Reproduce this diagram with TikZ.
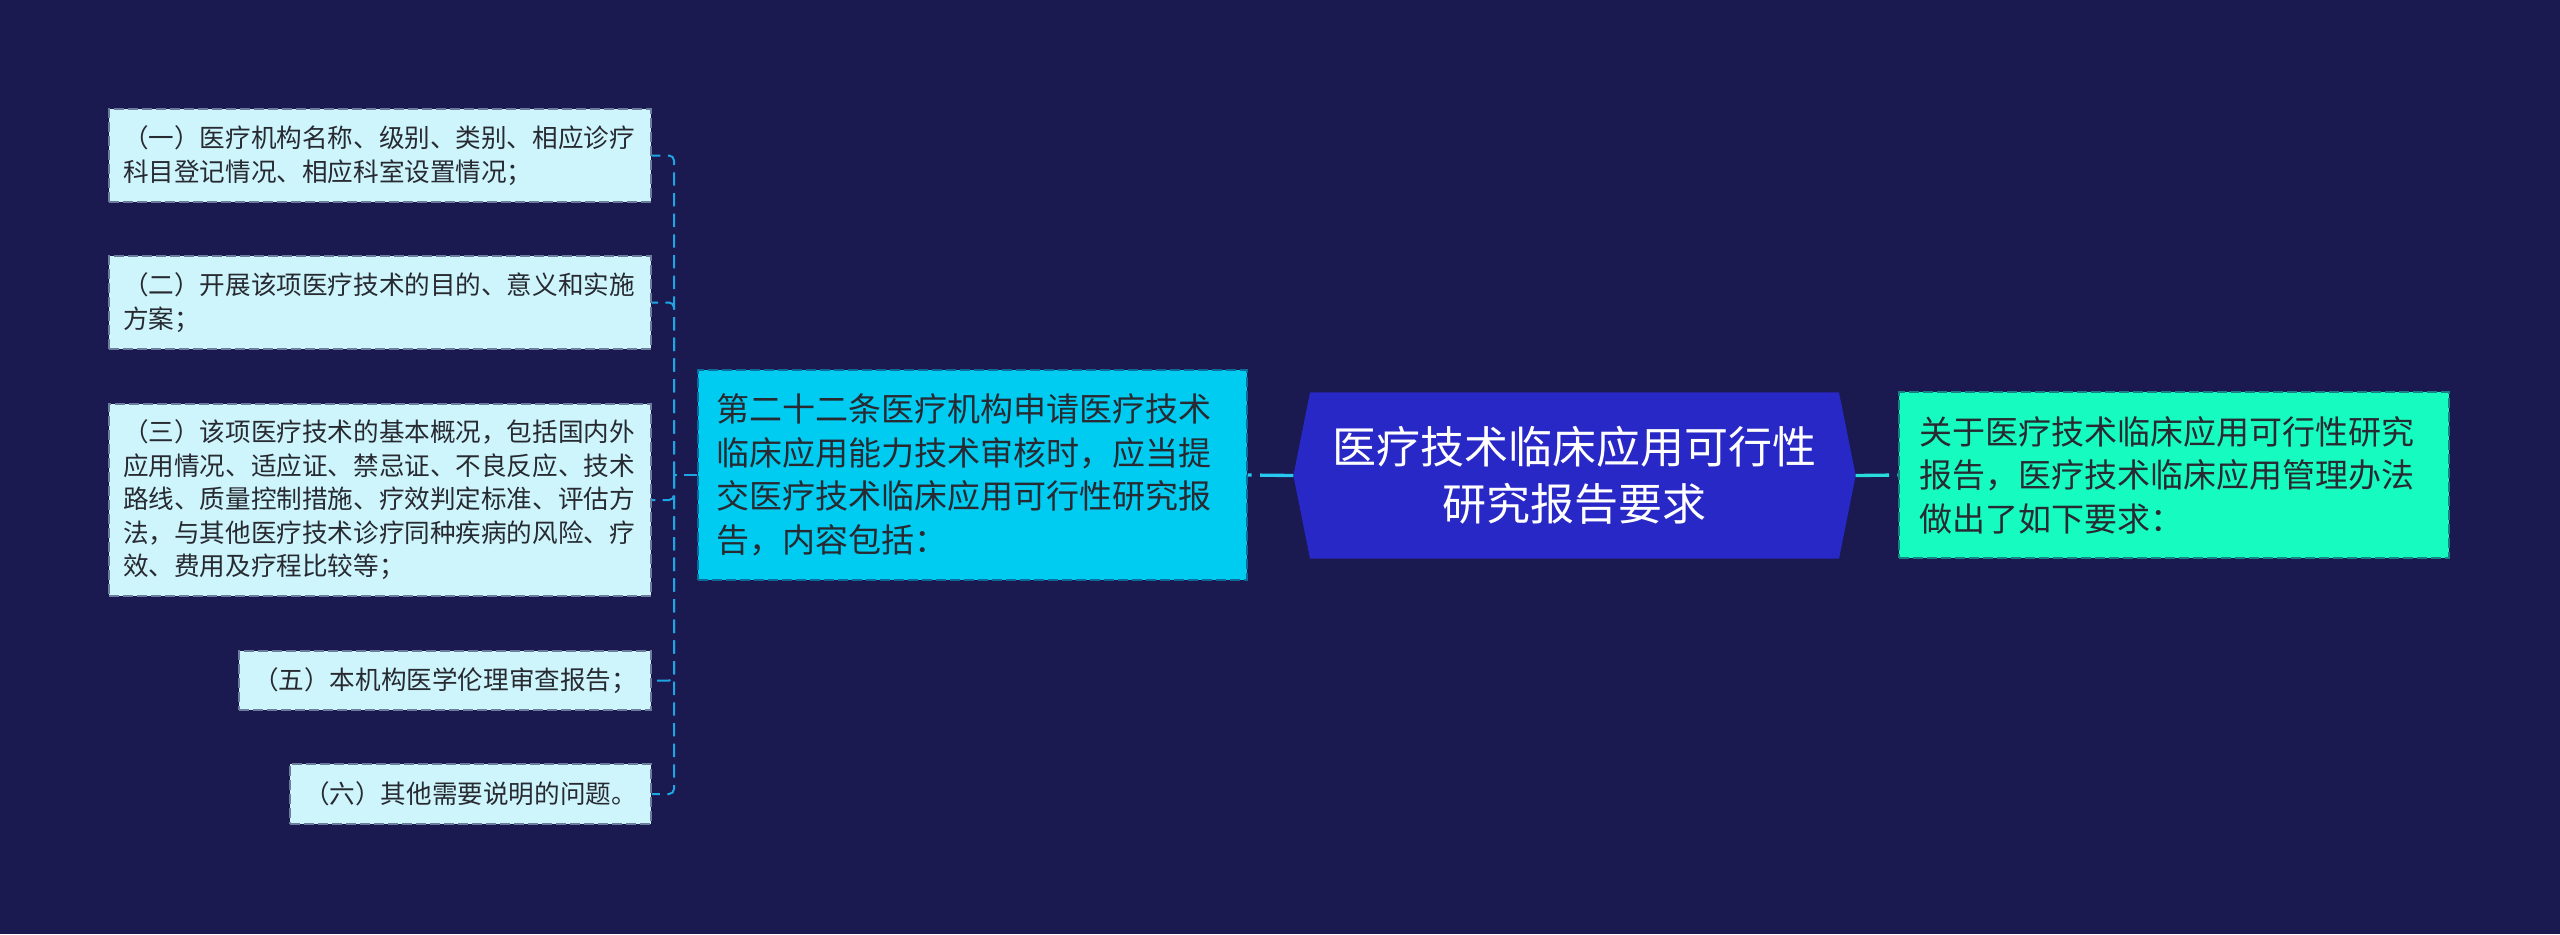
\documentclass[tikz,border=0pt]{standalone}
\usepackage{fontspec}
\newfontfamily\cjk{Noto Sans CJK SC}
\usetikzlibrary{backgrounds}
\definecolor{bg}{RGB}{26,25,80}
\definecolor{rootfill}{RGB}{40,40,198}
\definecolor{midfill}{RGB}{0,204,242}
\definecolor{rgtfill}{RGB}{22,252,192}
\definecolor{leaffill}{RGB}{206,245,252}
\colorlet{midborder}{midfill!45!bg}
\colorlet{rgtborder}{rgtfill!45!bg}
\colorlet{leafborder}{leaffill!45!bg}
\definecolor{txt}{RGB}{40,42,50}
\definecolor{buscol}{RGB}{30,165,228}
\definecolor{rootline}{RGB}{40,200,240}
\definecolor{rgtline}{RGB}{40,220,220}
\tikzset{
  boxbase/.style={inner sep=0pt, line width=0.5pt, dash pattern=on 3pt off 1.2pt, text=txt},
  leaf/.style={boxbase, draw=leafborder, fill=leaffill, align=left,
    font=\cjk\fontsize{7.68pt}{10.05pt}\selectfont},
  midbox/.style={boxbase, draw=midborder, fill=midfill, align=left,
    font=\cjk\fontsize{9.9pt}{13.05pt}\selectfont},
  rgtbox/.style={boxbase, draw=rgtborder, fill=rgtfill, align=left,
    font=\cjk\fontsize{9.9pt}{13.05pt}\selectfont},
  rootbox/.style={inner sep=0pt, text=white, align=center,
    font=\cjk\fontsize{13.2pt}{17.1pt}\selectfont},
  link/.style={line width=0.6pt, dash pattern=on 4pt off 2.2pt},
  rootlink/.style={line width=1pt, dash pattern=on 10pt off 2.5pt}
}
\begin{document}
\begin{tikzpicture}[x=0.3pt,y=-0.3pt]
\useasboundingbox (0,0) rectangle (2560,934);
% leaves
\node[leaf, minimum width=162.6pt, minimum height=27.9pt, text width=154.2pt] (l1) at (380,155.5)
  {（一）医疗机构名称、级别、类别、相应诊疗\\科目登记情况、相应科室设置情况；};
\node[leaf, minimum width=162.6pt, minimum height=27.9pt, text width=154.2pt] (l2) at (380,302.5)
  {（二）开展该项医疗技术的目的、意义和实施\\方案；};
\node[leaf, minimum width=162.6pt, minimum height=57.6pt, text width=154.2pt] (l3) at (380,500)
  {（三）该项医疗技术的基本概况，包括国内外\\应用情况、适应证、禁忌证、不良反应、技术\\路线、质量控制措施、疗效判定标准、评估方\\法，与其他医疗技术诊疗同种疾病的风险、疗\\效、费用及疗程比较等；};
\node[leaf, minimum width=123.6pt, minimum height=17.7pt, align=center] (l5) at (445,680.5)
  {（五）本机构医学伦理审查报告；};
\node[leaf, minimum width=108.3pt, minimum height=18pt, align=center] (l6) at (470.5,794)
  {（六）其他需要说明的问题。};
% middle
\node[midbox, minimum width=164.7pt, minimum height=63pt, text width=153.9pt] (mid) at (972.5,475)
  {第二十二条医疗机构申请医疗技术\\临床应用能力技术审核时，应当提\\交医疗技术临床应用可行性研究报\\告，内容包括：};
% root
\node[rootbox, minimum width=168.3pt, minimum height=49.5pt] (root) at (1574.5,475.5)
  {医疗技术临床应用可行性\\研究报告要求};
% right
\node[rgtbox, minimum width=165pt, minimum height=49.8pt, text width=153pt] (rgt) at (2174,475)
  {关于医疗技术临床应用可行性研究\\报告，医疗技术临床应用管理办法\\做出了如下要求：};
\begin{scope}[on background layer]
  \fill[bg] (0,0) rectangle (2560,934);
  \fill[rootfill] (root.west) -- ([xshift=5pt]root.north west) -- ([xshift=-5pt]root.north east)
    -- (root.east) -- ([xshift=-5pt]root.south east) -- ([xshift=5pt]root.south west) -- cycle;
\end{scope}
% connectors
\draw[rootlink, draw=rootline] (root.west) -- (mid.east);
\draw[rootlink, draw=rgtline] (root.east) -- (rgt.west);
\coordinate (bus) at (674,475);
\draw[link, draw=buscol] (mid.west) -- (bus);
\foreach \n in {l1,l2,l3,l5,l6}
  \draw[link, draw=buscol, rounded corners=1.5pt] (bus) |- (\n.east);
\end{tikzpicture}
\end{document}
